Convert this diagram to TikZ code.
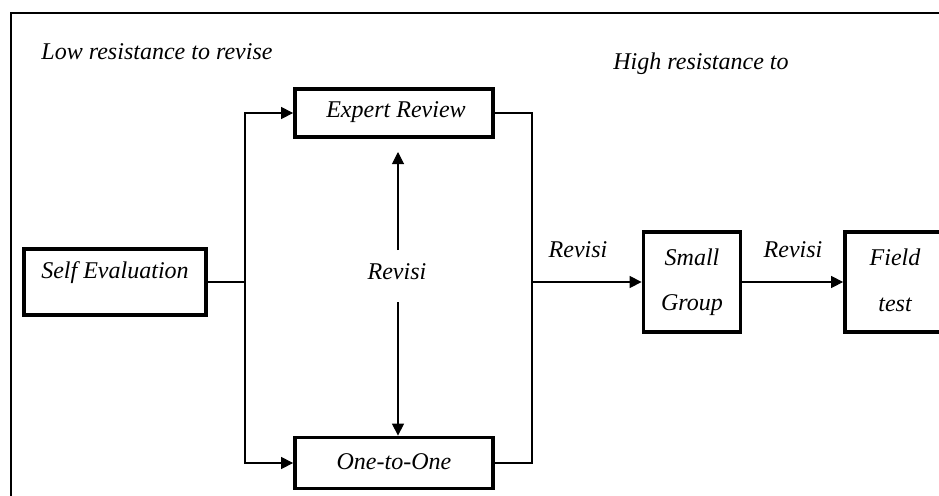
\documentclass[tikz,border=0pt]{standalone}
\usepackage{fontspec}
\setmainfont{Liberation Serif}
\usetikzlibrary{arrows.meta}
\tikzset{
  stagebox/.style={draw, line width=3.2pt, inner sep=0pt},
  txt/.style={inner sep=0pt, font=\itshape\fontsize{20.5}{24}\selectfont},
  conn/.style={line width=0.9pt},
  arr/.style={conn, -{Triangle[length=0.36cm,width=0.36cm]}},
}
\begin{document}
\begin{tikzpicture}[x=0.03cm,y=-0.03cm]
  \useasboundingbox (0,0) rectangle (939,495);
  \clip (0,0) rectangle (939,495);
  % outer frame (only top and left edges fall inside the page)
  \draw[line width=1pt] (11,500) -- (11,13) -- (950,13);

  % headings
  \node[txt] (low) at (157,52) {Low resistance to revise};
  \node[txt] (high) at (701,64) {High resistance to};

  % stage boxes
  \node[stagebox, minimum width=5.46cm, minimum height=1.98cm] (self) at (115,282) {};
  \node[txt] (selft) at (115,273) {Self Evaluation};
  \node[stagebox, minimum width=5.94cm, minimum height=1.44cm] (expert) at (394,113) {};
  \node[txt] (expertt) at (396,112) {Expert Review};
  \node[stagebox, minimum width=5.94cm, minimum height=1.53cm] (one) at (394,463) {};
  \node[txt] (onet) at (394,462) {One-to-One};
  \node[stagebox, minimum width=2.91cm, minimum height=3.0cm] (small) at (692,282) {};
  \node[txt] (smallt1) at (692,257) {Small};
  \node[txt] (smallt2) at (692,305) {Group};
  \node[stagebox, minimum width=3.0cm, minimum height=3.0cm] (field) at (895,282) {};
  \node[txt] (fieldt1) at (895,257) {Field};
  \node[txt] (fieldt2) at (895,305) {test};

  % revision labels
  \node[txt] (rev) at (397,272) {Revisi};
  \node[txt] (rev2) at (578,250) {Revisi};
  \node[txt] (rev3) at (793,250) {Revisi};

  % junction points
  \coordinate (jl) at (245,282);
  \coordinate (jr) at (532,282);
  \coordinate (up) at (398,250);
  \coordinate (dn) at (398,302);
  \coordinate (uptip) at (398,152);

  % left fan-out
  \draw[conn] (self.east) -- (jl);
  \draw[arr] (jl) |- (expert.west);
  \draw[arr] (jl) |- (one.west);

  % revision arrows between expert and one-to-one
  \draw[arr] (up) -- (uptip);
  \draw[arr] (dn) -- (one.north -| dn);

  % right merge
  \draw[conn] (expert.east) -| (jr);
  \draw[conn] (one.east) -| (jr);
  \draw[arr] (jr) -- (small.west);
  \draw[arr] (small.east) -- (field.west);
\end{tikzpicture}
\end{document}
